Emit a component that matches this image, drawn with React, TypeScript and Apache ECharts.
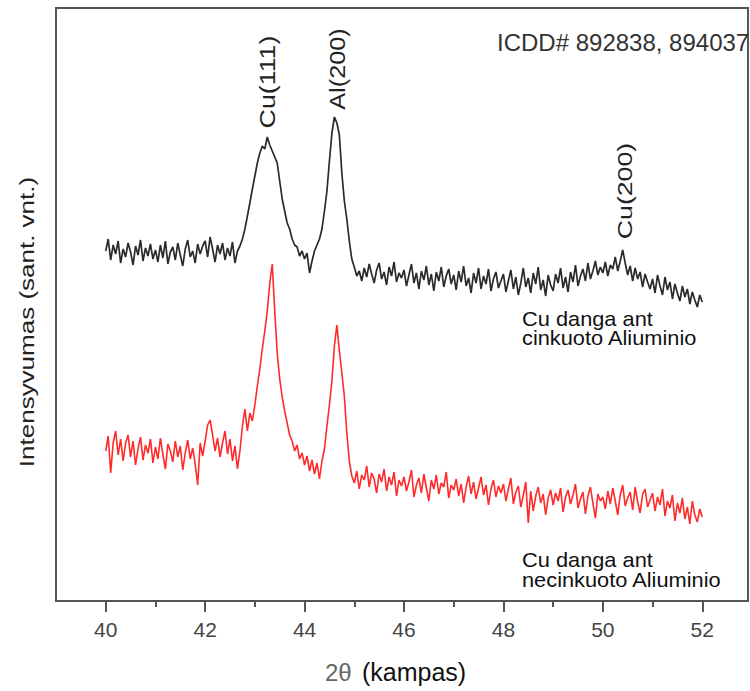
import React, { useEffect, useRef } from "react";
import * as echarts from "echarts";

// 2θ sampling grid
const START = 40;
const STEP = 0.05;

// Cu danga ant cinkuoto Aliuminio (black), arbitrary intensity units
const BLACK = [
  350, 362, 341, 356, 347, 360, 338, 352, 344, 358, 349, 336, 355, 346, 361, 340, 353, 345, 357, 342,
  351, 339, 356, 343, 360, 337, 349, 354, 341, 358, 346, 335, 352, 361, 344, 350, 338, 357, 347, 355,
  360, 344, 364, 352, 339, 356, 347, 358, 341, 353, 345, 359, 338, 350, 355, 362, 372, 385, 398, 412,
  425, 438, 448, 455, 452, 464, 456, 450, 444, 438, 420, 402, 390, 378, 372, 362, 356, 354, 345, 350,
  342, 348, 328, 340, 350, 356, 362, 372, 390, 410, 440, 468, 484, 478, 466, 428, 400, 382, 360, 342,
  334, 325, 330, 320, 333, 324, 337, 327, 318, 331, 338, 322, 329, 316, 334, 325, 339, 319, 328, 323,
  331, 315, 326, 337, 318, 328, 312, 330, 321, 335, 316, 327, 310, 329, 320, 334, 314, 325, 332, 317,
  326, 311, 330, 319, 335, 315, 323, 308, 328, 318, 333, 312, 325, 317, 332, 310, 322, 329, 313, 320,
  327, 309, 320, 331, 312, 324, 306, 318, 333, 314, 323, 308, 328, 317, 334, 311, 321, 305, 326, 316,
  310, 327, 318, 333, 313, 324, 309, 329, 319, 336, 315, 325, 332, 320, 338, 322, 330, 340, 326, 334,
  328, 339, 325, 336, 332, 344, 330, 340, 351, 338, 326, 335, 320, 333, 322, 329, 314, 327, 319, 312,
  322, 308, 326, 315, 306, 324, 311, 319, 302, 317, 308, 300, 315, 304, 312, 297, 309, 301, 294, 306, 299,
];

// Cu danga ant necinkuoto Aliuminio (red)
const RED = [
  150, 165, 128, 158, 170, 146, 162, 140, 158, 166, 144, 160, 136, 152, 164, 141, 156, 148, 162, 138,
  154, 142, 163, 147, 132, 157, 150, 139, 160, 144, 155, 131, 148, 161, 142, 153, 137, 116, 158, 145,
  160, 176, 181, 166, 150, 163, 144, 158, 170, 147, 162, 140, 155, 132, 150, 175, 192, 170, 188, 180,
  196, 215, 232, 252, 270, 290, 318, 337, 290, 248, 222, 204, 190, 178, 166, 160, 150, 156, 142, 148,
  136, 145, 130, 141, 127, 138, 122, 140, 152, 175, 196, 220, 255, 276, 250, 228, 205, 168, 140, 125,
  118, 130, 112, 126, 121, 135, 114, 128, 122, 108, 127, 119, 132, 110, 124, 116, 129, 105, 121, 115,
  124, 110, 119, 131, 104, 116, 123, 108, 127, 113, 100, 121, 112, 126, 107, 118, 114, 129, 103, 116,
  111, 122, 105, 117, 98, 114, 125, 107, 119, 102, 113, 124, 106, 116, 96, 112, 121, 104, 115, 108,
  117, 100, 112, 123, 97, 109, 115, 94, 106, 119, 78, 110, 90, 105, 114, 98, 107, 86, 103, 111,
  96, 108, 100, 113, 89, 104, 111, 97, 106, 117, 93, 102, 109, 87, 105, 114, 98, 83, 107, 100,
  104, 92, 110, 97, 113, 100, 86, 106, 116, 95, 103, 109, 91, 114, 99, 88, 107, 112, 94, 101,
  108, 90, 104, 96, 112, 85, 100, 93, 106, 80, 98, 88, 103, 82, 94, 77, 100, 86, 79, 92, 84,
];

const MAJOR_TICKS = [40, 42, 44, 46, 48, 50, 52];
const MINOR_TICKS = [41, 43, 45, 47, 49, 51];

const X_MIN = 39;
const X_MAX = 52.92;
const Y_MIN = 0;
const Y_MAX = 593;

const FONT = '"Liberation Sans", Arial, Helvetica, sans-serif';

type TextOpts = {
  size: number;
  color?: string;
  align?: string;
  vAlign?: string;
  rotation?: number;
  scaleX?: number;
  weight?: string;
  family?: string;
};

function txt(text: string, x: number, y: number, o: TextOpts) {
  const align = o.align || "left";
  const vAlign = o.vAlign || "middle";
  return {
    type: "text",
    x,
    y,
    rotation: o.rotation || 0,
    scaleX: o.scaleX || 1,
    silent: true,
    style: {
      text,
      fill: o.color || "#222",
      fontSize: o.size,
      fontFamily: o.family || FONT,
      fontWeight: o.weight || "normal",
      textAlign: align,
      textVerticalAlign: vAlign,
      align,
      verticalAlign: vAlign,
    },
  };
}

export default function App() {
  const ref = useRef<HTMLDivElement>(null);

  useEffect(() => {
    if (!ref.current) return;
    const chart = echarts.init(ref.current, null, { renderer: "svg" });
    const blackData = BLACK.map((v, i) => [START + i * STEP, v]);
    const redData = RED.map((v, i) => [START + i * STEP, v]);
    const axisColor = "#555";
    const ROT = Math.PI / 2;

    chart.setOption({
      animation: false,
      backgroundColor: "#fff",
      grid: {
        left: 56,
        right: 2,
        top: 8,
        bottom: 90,
        show: true,
        borderColor: axisColor,
        borderWidth: 2,
        backgroundColor: "transparent",
      },
      xAxis: [
        {
          type: "value",
          min: X_MIN,
          max: X_MAX,
          position: "bottom",
          axisLine: { show: true, lineStyle: { color: axisColor, width: 2 } },
          axisTick: {
            show: true,
            customValues: MAJOR_TICKS,
            length: 11,
            lineStyle: { color: axisColor, width: 2 },
          },
          axisLabel: {
            show: true,
            customValues: MAJOR_TICKS,
            margin: 18,
            fontSize: 21,
            color: "#444",
            fontFamily: FONT,
          },
          splitLine: { show: false },
        },
        {
          type: "value",
          min: X_MIN,
          max: X_MAX,
          position: "bottom",
          axisLine: { show: false },
          axisTick: {
            show: true,
            customValues: MINOR_TICKS,
            length: 6,
            lineStyle: { color: axisColor, width: 2 },
          },
          axisLabel: { show: false },
          splitLine: { show: false },
        },
      ],
      yAxis: {
        type: "value",
        min: Y_MIN,
        max: Y_MAX,
        axisLine: { show: false },
        axisTick: { show: false },
        axisLabel: { show: false },
        splitLine: { show: false },
      },
      series: [
        {
          type: "line",
          name: "Cu danga ant cinkuoto Aliuminio",
          xAxisIndex: 0,
          data: blackData,
          showSymbol: false,
          symbol: "none",
          lineStyle: { color: "#2a2a2a", width: 1.7 },
          z: 3,
        },
        {
          type: "line",
          name: "Cu danga ant necinkuoto Aliuminio",
          xAxisIndex: 0,
          data: redData,
          showSymbol: false,
          symbol: "none",
          lineStyle: { color: "#ff2a2a", width: 1.6 },
          z: 2,
        },
      ],
      graphic: [
        txt("ICDD# 892838, 894037", 497, 42, { size: 24, color: "#333" }),
        txt("Cu(111)", 267, 82, { size: 22, rotation: ROT, scaleX: 1.22, align: "center", color: "#222" }),
        txt("Al(200)", 338, 69, { size: 22, rotation: ROT, scaleX: 1.15, align: "center", color: "#222" }),
        txt("Cu(200)", 625, 191, { size: 21, rotation: ROT, scaleX: 1.27, align: "center", color: "#222" }),
        txt("Cu danga ant", 522, 319, { size: 20, scaleX: 1.09, color: "#111" }),
        txt("cinkuoto Aliuminio", 522, 338, { size: 20, scaleX: 1.09, color: "#111" }),
        txt("Cu danga ant", 522, 560, { size: 20, scaleX: 1.09, color: "#111" }),
        txt("necinkuoto Aliuminio", 522, 580, { size: 20, scaleX: 1.09, color: "#111" }),
        txt("Intensyvumas (sant. vnt.)", 27, 322, {
          size: 20,
          rotation: ROT,
          scaleX: 1.3,
          align: "center",
          color: "#222",
        }),
        txt("2θ", 325, 672, { size: 24, color: "#666" }),
        txt("(kampas)", 362, 672, { size: 25, color: "#111" }),
      ],
    });

    return () => {
      chart.dispose();
    };
  }, []);

  return (
    <div
      ref={ref}
      style={{ position: "absolute", left: 0, top: 0, width: 750, height: 691 }}
    />
  );
}
